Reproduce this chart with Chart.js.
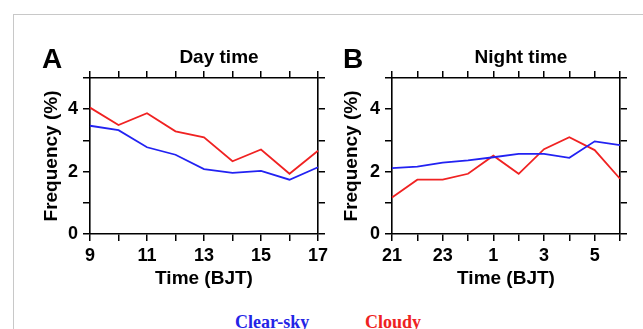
<!DOCTYPE html>
<html>
<head>
<meta charset="utf-8">
<script src="https://cdn.jsdelivr.net/npm/chart.js@4"></script>
<style>
    html, body { margin: 0; padding: 0; background: #fff; }
    body { width: 643px; height: 329px; position: relative; overflow: hidden; font-family: "Liberation Sans", Arial, sans-serif; }
    .frame { position: absolute; left: 13px; top: 14px; width: 700px; height: 400px; border: 1px solid #c8c8c8; }
    canvas { position: absolute; top: 0; }
    .txt { position: absolute; font-weight: bold; white-space: nowrap; line-height: 1; transform: translate(-50%, -50%); }
    .panel { font-size: 28px; color: #000; }
    .title { font-size: 19px; color: #000; }
    .leg { font-family: "Liberation Serif", "Times New Roman", serif; font-size: 18px; transform: translate(0, -50%); }
</style>
</head>
<body>
<div class="frame"></div>
<canvas id="dayChart" width="310" height="290" style="left:30px"></canvas>
<canvas id="nightChart" width="313" height="290" style="left:330px"></canvas>
<div class="txt panel" style="left:52px; top:59px">A</div>
<div class="txt panel" style="left:353px; top:59px">B</div>
<div class="txt title" style="left:219px; top:56px">Day time</div>
<div class="txt title" style="left:521px; top:56px">Night time</div>
<div class="txt leg" style="left:235px; top:322px; color:#2424e6">Clear-sky</div>
<div class="txt leg" style="left:365px; top:322px; color:#ee2222">Cloudy</div>
<script>
(function (window, document) {
    'use strict';

    // hours (BJT)
    var dayHours = ['9', '10', '11', '12', '13', '14', '15', '16', '17'];
    var nightHours = ['21', '22', '23', '0', '1', '2', '3', '4', '5', '6'];

    // frequency (%)
    var dayClear = [3.47, 3.33, 2.78, 2.54, 2.08, 1.96, 2.02, 1.74, 2.14];
    var dayCloudy = [4.05, 3.49, 3.87, 3.29, 3.10, 2.33, 2.71, 1.93, 2.67];
    var nightClear = [2.11, 2.16, 2.29, 2.36, 2.46, 2.57, 2.57, 2.44, 2.97, 2.85];
    var nightCloudy = [1.17, 1.74, 1.74, 1.93, 2.51, 1.93, 2.72, 3.10, 2.69, 1.77];

    var yTicks = [0, 2, 4];

    var BLUE = '#2222f2';
    var RED = '#f02222';
    var FONT = { family: '"Liberation Sans", Arial, sans-serif', weight: 'bold' };

    var axisGrid = {
        drawOnChartArea: false,
        drawTicks: true,
        tickLength: 7,
        color: '#000',
        lineWidth: 1.5
    };
    var axisBorder = { display: true, color: '#000', width: 1.6 };

    function fixSize(prop, size) {
        return function (scale) { scale[prop] = size; };
    }

    function makeChart(id, labels, clear, cloudy, leftWidth, rightWidth) {
        var ctx = document.getElementById(id).getContext('2d');

        return new Chart(ctx, {
            type: 'line',
            data: {
                labels: labels,
                datasets: [
                    { label: 'Clear-sky', data: clear, borderColor: BLUE, borderWidth: 1.8, pointRadius: 0, tension: 0, fill: false },
                    { label: 'Cloudy', data: cloudy, borderColor: RED, borderWidth: 1.8, pointRadius: 0, tension: 0, fill: false }
                ]
            },
            options: {
                responsive: false,
                devicePixelRatio: 1,
                animation: false,
                layout: { padding: 0 },
                plugins: {
                    legend: { display: false },
                    tooltip: { enabled: false }
                },
                scales: {
                    x: {
                        type: 'category',
                        position: 'bottom',
                        offset: false,
                        grid: axisGrid,
                        border: axisBorder,
                        ticks: {
                            autoSkip: false,
                            maxRotation: 0,
                            padding: 4,
                            color: '#000',
                            font: Object.assign({ size: 18 }, FONT),
                            callback: function (value, index) {
                                return index % 2 === 0 ? this.getLabelForValue(value) : '';
                            }
                        },
                        title: {
                            display: true,
                            text: 'Time (BJT)',
                            color: '#000',
                            padding: 0,
                            font: Object.assign({ size: 19, lineHeight: 1.2 }, FONT)
                        },
                        afterFit: fixSize('height', 56)
                    },
                    x2: {
                        type: 'category',
                        position: 'top',
                        offset: false,
                        labels: labels,
                        grid: axisGrid,
                        border: axisBorder,
                        ticks: { display: false, autoSkip: false },
                        afterFit: fixSize('height', 78)
                    },
                    y: {
                        position: 'left',
                        min: 0,
                        max: 5,
                        grid: axisGrid,
                        border: axisBorder,
                        ticks: {
                            stepSize: 1,
                            padding: 5,
                            color: '#000',
                            font: Object.assign({ size: 18 }, FONT),
                            callback: function (v) {
                                return yTicks.indexOf(v) >= 0 ? String(v) : '';
                            }
                        },
                        title: {
                            display: true,
                            text: 'Frequency (%)',
                            color: '#000',
                            padding: { top: 10, bottom: 0 },
                            font: Object.assign({ size: 19, lineHeight: 1.2 }, FONT)
                        },
                        afterFit: fixSize('width', leftWidth)
                    },
                    y2: {
                        position: 'right',
                        min: 0,
                        max: 5,
                        grid: axisGrid,
                        border: axisBorder,
                        ticks: { display: false, stepSize: 1 },
                        afterFit: fixSize('width', rightWidth)
                    }
                }
            }
        });
    }

    makeChart('dayChart', dayHours, dayClear, dayCloudy, 60, 22);
    makeChart('nightChart', nightHours, nightClear, nightCloudy, 62, 23);

})(window, document);
</script>
</body>
</html>
